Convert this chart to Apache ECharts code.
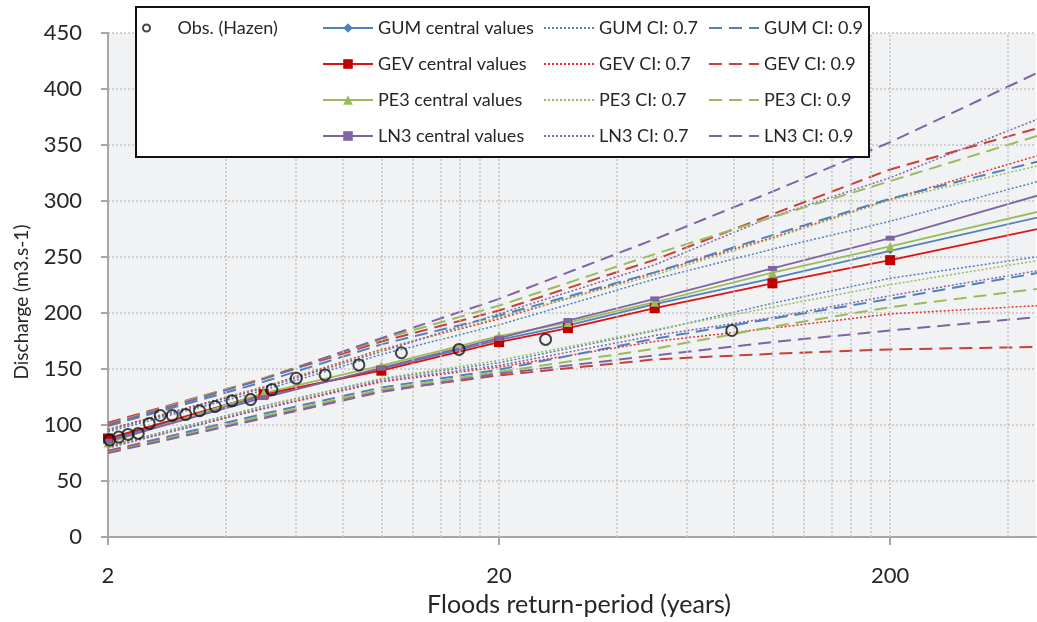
<!DOCTYPE html>
<html>
<head>
<meta charset="utf-8">
<script src="https://cdn.jsdelivr.net/npm/echarts@6/dist/echarts.min.js"></script>
<style>
html, body { margin: 0; padding: 0; background: #fff; }
#chart { width: 1037px; height: 622px; }
</style>
</head>
<body>
<div id="chart"></div>
<script>
// Flood frequency curves: return period (log scale) vs discharge
const chart = echarts.init(document.getElementById('chart'));

const T0 = 2;          // left end of the x axis (years)
const T_MAX = 472;     // right end of the x axis (years)

// observed maxima, Hazen plotting positions
const OBS_T = [2.02, 2.13, 2.25, 2.39, 2.55, 2.72, 2.92, 3.16, 3.43, 3.76, 4.15, 4.63, 5.25, 6.06, 7.18, 8.76, 11.25, 15.8, 26.3, 78.7];
const OBS_Q = [86.5, 89.2, 91.6, 92.5, 101.4, 108.5, 108.5, 109.4, 112.7, 116.5, 121.6, 122.7, 131.6, 141.7, 144.7, 153.6, 164.5, 167.5, 176.4, 184.4];

// central values
const T_CENTRAL = [2, 5, 10, 20, 30, 50, 100, 200, 500];
const GUM_C = [87, 126, 150, 176, 189, 208, 231, 255.5, 287];
const GEV_C = [88, 127.5, 148.5, 174, 186.5, 204.3, 226.5, 247.2, 276.6];
const PE3_C = [84, 128.5, 153, 179.4, 191.5, 209.6, 236, 259.4, 292];
const LN3_C = [85.5, 124.5, 151, 177.6, 193.3, 212.6, 239.8, 266.8, 307];

// confidence bounds
const T_CI = [2, 5, 10, 20, 50, 100, 200, 500];
const GUM_07_UP = [94, 131, 163, 189.4, 230.3, 257, 281.9, 319.3];
const GUM_07_LO = [81, 117, 141, 155.6, 184.1, 208.7, 231, 251.3];
const GUM_09_UP = [99, 138.5, 172, 197.7, 236.3, 269.5, 302.1, 337];
const GUM_09_LO = [77, 110, 133.5, 149.4, 177, 195, 212.6, 237];
const GEV_07_UP = [96, 134, 167.5, 194.8, 236, 267.4, 301.5, 342.6];
const GEV_07_LO = [80.5, 114.5, 138.5, 151.8, 174.6, 186.5, 199.2, 207];
const GEV_09_UP = [102, 141.5, 174.5, 202.2, 247.5, 288.2, 328.2, 367];
const GEV_09_LO = [76.5, 107, 130.5, 144.3, 158.6, 163.6, 167.5, 169.8];
const PE3_07_UP = [95, 133.5, 166.5, 196.3, 233.9, 266.5, 300.9, 333];
const PE3_07_LO = [80, 116.5, 141.5, 157.7, 185, 205.2, 225.3, 248];
const PE3_09_UP = [100.5, 142, 176.5, 206.6, 252.6, 285.5, 317.8, 360.5];
const PE3_09_LO = [75.5, 108, 131.5, 147.4, 168.1, 187.7, 205.2, 222.5];
const LN3_07_UP = [95.5, 133, 165.5, 199.2, 243, 286, 320.8, 376];
const LN3_07_LO = [79.5, 115, 139.5, 153.2, 179.9, 195.9, 215.5, 239];
const LN3_09_UP = [100, 141, 177.5, 212.6, 265.9, 308.4, 352.5, 418];
const LN3_09_LO = [75, 106, 129.5, 145.9, 162.1, 174, 184.4, 197];

// axes
const X_LABEL_T = [2, 20, 200];
const GRID_T = [4, 6, 8, 10, 12, 14, 16, 18, 20, 40, 60, 80, 100, 120, 140, 160, 180, 200, 400];
const Y_MAX = 450;
const Y_STEP = 50;

const FONT = 'Lato, "Open Sans", sans-serif';
const TEXT = '#262626';
const AXIS_GREY = '#A6A6A6';
const GRID_GREY = '#C4C4C4';

const xOf = t => Math.log10(t / T0);
const pts = (ts, vs) => ts.map((t, i) => [xOf(t), vs[i]]);

const DOT = [2, 2];
const DASH = [13, 7];

// central curve: the line (also gives the legend icon) + filled markers on top
function central(name, vals, lineColor, markColor, symbol, size){
  return [
    {
      name, type: 'line', data: pts(T_CENTRAL, vals),
      symbol, symbolSize: size, showSymbol: false,
      lineStyle: { color: lineColor, width: 1.8 },
      itemStyle: { color: markColor },
      z: 4
    },
    {
      name, type: 'scatter', data: pts(T_CENTRAL, vals),
      symbol, symbolSize: size,
      itemStyle: { color: markColor, opacity: 1 },
      z: 5
    }
  ];
}
function band(name, vals, color, dash, width){
  return {
    name, type: 'line', data: pts(T_CI, vals),
    symbol: 'none',
    lineStyle: { color, width, type: dash },
    itemStyle: { color },
    z: 3
  };
}

const CENTRAL_NAMES = ['GUM central values', 'GEV central values', 'PE3 central values', 'LN3 central values'];
const CI07_NAMES = ['GUM CI: 0.7', 'GEV CI: 0.7', 'PE3 CI: 0.7', 'LN3 CI: 0.7'];
const CI09_NAMES = ['GUM CI: 0.9', 'GEV CI: 0.9', 'PE3 CI: 0.9', 'LN3 CI: 0.9'];

const series = [
  // vertical grid lines of the log axis
  {
    name: 'grid', type: 'line', data: [], z: 1, silent: true,
    markLine: {
      silent: true, symbol: ['none', 'none'], label: { show: false }, animation: false,
      lineStyle: { color: GRID_GREY, width: 1.5, type: DOT },
      data: GRID_T.map(t => ({ xAxis: xOf(t) }))
    }
  },
  band('GUM CI: 0.7', GUM_07_UP, '#4F81BD', DOT, 1.5),
  band('GUM CI: 0.7', GUM_07_LO, '#4F81BD', DOT, 1.5),
  band('GEV CI: 0.7', GEV_07_UP, '#E8302A', DOT, 1.5),
  band('GEV CI: 0.7', GEV_07_LO, '#E8302A', DOT, 1.5),
  band('PE3 CI: 0.7', PE3_07_UP, '#9BBB59', DOT, 1.5),
  band('PE3 CI: 0.7', PE3_07_LO, '#9BBB59', DOT, 1.5),
  band('LN3 CI: 0.7', LN3_07_UP, '#8064A2', DOT, 1.5),
  band('LN3 CI: 0.7', LN3_07_LO, '#8064A2', DOT, 1.5),
  band('GUM CI: 0.9', GUM_09_UP, '#4F81BD', DASH, 2),
  band('GUM CI: 0.9', GUM_09_LO, '#4F81BD', DASH, 2),
  band('GEV CI: 0.9', GEV_09_UP, '#C8403C', DASH, 2),
  band('GEV CI: 0.9', GEV_09_LO, '#C8403C', DASH, 2),
  band('PE3 CI: 0.9', PE3_09_UP, '#9BBB59', DASH, 2),
  band('PE3 CI: 0.9', PE3_09_LO, '#9BBB59', DASH, 2),
  band('LN3 CI: 0.9', LN3_09_UP, '#8064A2', DASH, 2),
  band('LN3 CI: 0.9', LN3_09_LO, '#8064A2', DASH, 2),
  ...central('GUM central values', GUM_C, '#4F81BD', '#4F81BD', 'diamond', 7),
  ...central('GEV central values', GEV_C, '#E01010', '#C00000', 'rect', 10),
  ...central('PE3 central values', PE3_C, '#9BBB59', '#9BBB59', 'triangle', 9),
  ...central('LN3 central values', LN3_C, '#8064A2', '#8064A2', 'rect', [9, 5]),
  {
    name: 'Obs. (Hazen)', type: 'scatter', data: pts(OBS_T, OBS_Q),
    symbol: 'circle', symbolSize: 11,
    itemStyle: { color: 'rgba(0,0,0,0)', borderColor: '#141414', borderWidth: 2 },
    z: 6
  }
];

const legendText = { fontFamily: FONT, fontSize: 18, lineHeight: 20, color: TEXT };
function legendCol(names, left, noMark){
  const col = {
    data: names, orient: 'vertical', left, top: 18, padding: 0,
    itemWidth: 50, itemHeight: 12, itemGap: 16,
    selectedMode: false, textStyle: legendText, z: 10
  };
  if (noMark) col.itemStyle = { opacity: 0 };
  return col;
}

chart.setOption({
  animation: false,
  backgroundColor: '#fff',
  grid: {
    left: 108, right: 1, top: 33, bottom: 83,
    show: true, backgroundColor: '#F1F2F4', borderWidth: 0
  },
  xAxis: {
    type: 'value',
    min: 0, max: xOf(T_MAX), interval: 1,
    axisLine: { show: true, onZero: false, lineStyle: { color: AXIS_GREY, width: 2 } },
    axisTick: { show: true, length: 8, customValues: X_LABEL_T.map(xOf), lineStyle: { color: AXIS_GREY, width: 2 } },
    axisLabel: {
      customValues: X_LABEL_T.map(xOf),
      margin: 28, fontFamily: FONT, fontSize: 22, color: TEXT,
      formatter: v => Math.abs(v - Math.round(v)) < 1e-6 ? String(Math.round(T0 * Math.pow(10, v))) : ''
    },
    splitLine: { show: false },
    name: 'Floods return-period (years)',
    nameLocation: 'middle', nameGap: 55,
    nameTextStyle: { fontFamily: FONT, fontSize: 25, color: TEXT, padding: [0, 0, 0, 14] }
  },
  yAxis: {
    type: 'value', min: 0, max: Y_MAX, interval: Y_STEP,
    axisLine: { show: true, lineStyle: { color: AXIS_GREY, width: 2 } },
    axisTick: { show: true, length: 7, lineStyle: { color: AXIS_GREY, width: 2 } },
    axisLabel: { margin: 26, fontFamily: FONT, fontSize: 22, color: TEXT },
    splitLine: { show: true, lineStyle: { color: GRID_GREY, width: 1.5, type: DOT } }
  },
  legend: [
    {
      data: ['Obs. (Hazen)'], orient: 'vertical', left: 142, top: 18, padding: 0,
      itemWidth: 20, itemHeight: 7, selectedMode: false, z: 10,
      textStyle: Object.assign({}, legendText, { padding: [0, 0, 0, 16] })
    },
    legendCol(CENTRAL_NAMES, 322, false),
    legendCol(CI07_NAMES, 543, true),
    legendCol(CI09_NAMES, 708, true)
  ],
  graphic: [
    {
      type: 'rect', z: 8, silent: true,
      shape: { x: 136, y: 7, width: 733, height: 150 },
      style: { fill: '#fff', stroke: '#111', lineWidth: 2 }
    },
    {
      type: 'text', x: 22, y: 302, rotation: Math.PI / 2, silent: true,
      style: { text: 'Discharge (m3.s-1)', fontFamily: FONT, fontSize: 19, fill: TEXT, align: 'center', verticalAlign: 'middle' }
    }
  ],
  series
});
</script>
</body>
</html>
